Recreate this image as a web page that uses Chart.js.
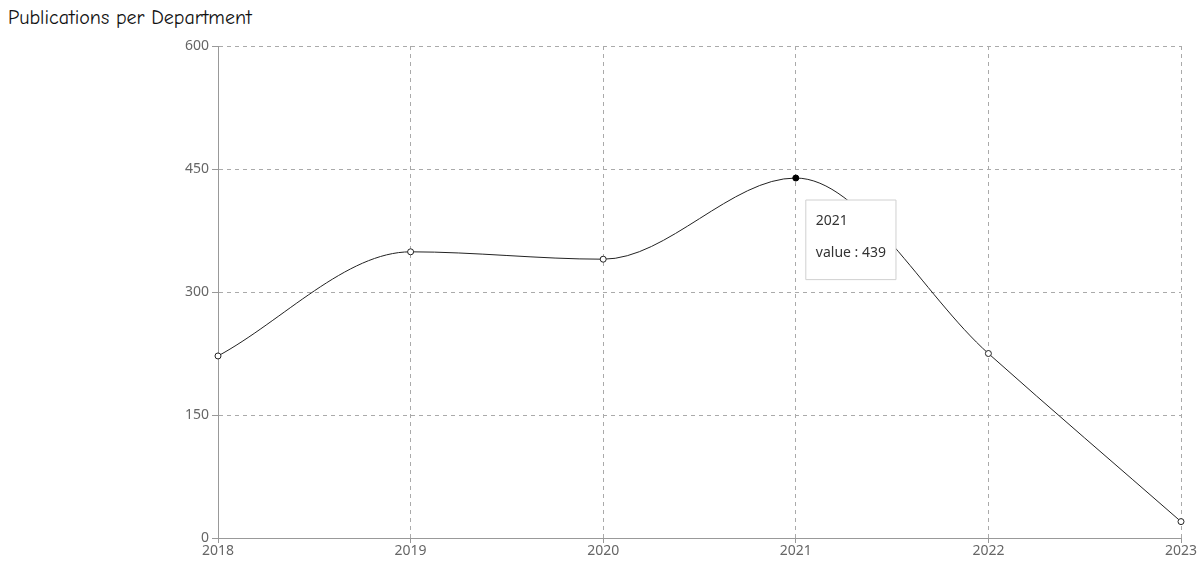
<!DOCTYPE html>
<html>
<head>
<meta charset="utf-8">
<script src="https://cdn.jsdelivr.net/npm/chart.js@4"></script>
<style>
  html, body { margin: 0; padding: 0; background: #fff; }
  #wrap { position: relative; width: 1202px; height: 565px; }
  #title {
    position: absolute; left: 8px; top: 6px;
    font-family: "Comic Sans MS", "Comic Neue", cursive, "DejaVu Sans";
    font-size: 20px; color: #111;
  }
  canvas { position: absolute; left: 0; top: 0; }
</style>
</head>
<body>
<div id="wrap">
  <div id="title">Publications per Department</div>
  <canvas id="chart" width="1202" height="565"></canvas>
</div>
<script>
const years = ['2018', '2019', '2020', '2021', '2022', '2023'];
const publications = [222, 349, 340, 439, 225, 20];
const yTicks = [0, 150, 300, 450, 600];
const activeIndex = 3;

const tickFont = { family: "'Noto Sans', 'Open Sans', sans-serif", size: 14 };

// tooltip sits a little right of and below the hovered point
Chart.Tooltip.positioners.offsetPoint = function (items) {
  if (!items.length) return false;
  const el = items[0].element;
  return { x: el.x + 10, y: el.y + 22 };
};

const ctx = document.getElementById('chart').getContext('2d');
const chart = new Chart(ctx, {
  type: 'line',
  data: {
    labels: years,
    datasets: [{
      label: 'value',
      data: publications,
      borderColor: '#222',
      borderWidth: 1,
      cubicInterpolationMode: 'monotone',
      fill: false,
      pointRadius: 3,
      pointBackgroundColor: '#fff',
      pointBorderColor: '#222',
      pointBorderWidth: 1,
      pointHoverRadius: 3,
      pointHoverBackgroundColor: '#000',
      pointHoverBorderColor: '#000',
      pointHoverBorderWidth: 1
    }]
  },
  options: {
    responsive: false,
    animation: false,
    layout: { padding: { top: 46, right: 21, bottom: 0, left: 0 } },
    plugins: {
      legend: { display: false },
      title: { display: false },
      tooltip: {
        position: 'offsetPoint',
        xAlign: 'left',
        yAlign: 'top',
        caretSize: 0,
        caretPadding: 0,
        cornerRadius: 0,
        backgroundColor: '#fff',
        borderColor: '#d0d0d0',
        borderWidth: 1,
        displayColors: false,
        titleColor: '#333',
        bodyColor: '#333',
        titleFont: { family: "'Noto Sans', sans-serif", size: 14, weight: 'normal' },
        bodyFont: { family: "'Noto Sans', sans-serif", size: 14 },
        padding: { top: 13, left: 10, right: 10, bottom: 18 },
        titleMarginBottom: 15,
        callbacks: {
          title: items => items[0].label,
          label: item => 'value : ' + item.raw
        }
      }
    },
    scales: {
      x: {
        grid: {
          color: '#aaa',
          tickLength: 5,
          tickColor: '#999',
          tickBorderDash: []
        },
        border: { display: true, color: '#999', width: 1, dash: [4, 4] },
        ticks: { color: '#666', font: tickFont, padding: 0, maxRotation: 0 },
        afterFit: scale => { scale.height = 27; }
      },
      y: {
        min: 0,
        max: 600,
        afterBuildTicks: scale => { scale.ticks = yTicks.map(v => ({ value: v })); },
        grid: {
          color: '#aaa',
          tickLength: 6,
          tickColor: '#999',
          tickBorderDash: []
        },
        border: { display: true, color: '#999', width: 1, dash: [4, 4] },
        ticks: { color: '#666', font: tickFont, padding: 3 },
        afterFit: scale => { scale.width = 218; }
      }
    }
  }
});

const meta = chart.getDatasetMeta(0);
const pt = meta.data[activeIndex];
chart.setActiveElements([{ datasetIndex: 0, index: activeIndex }]);
chart.tooltip.setActiveElements([{ datasetIndex: 0, index: activeIndex }], { x: pt.x, y: pt.y });
chart.update();
</script>
</body>
</html>
